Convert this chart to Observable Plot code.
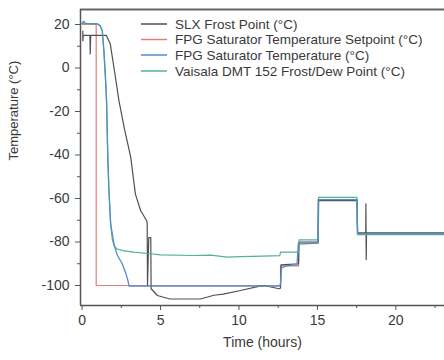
<!DOCTYPE html>
<html>
<head>
<meta charset="utf-8">
<script src="https://cdn.jsdelivr.net/npm/d3@7"></script>
<script src="https://cdn.jsdelivr.net/npm/@observablehq/plot@0.6"></script>
<style>
  html, body { margin: 0; padding: 0; background: #fff; }
  #chart { width: 444px; height: 360px; overflow: hidden; }
</style>
</head>
<body>
<div id="chart"></div>
<script>
// ---- data ----
const seriesNames = [
  "SLX Frost Point (°C)",
  "FPG Saturator Temperature Setpoint (°C)",
  "FPG Saturator Temperature (°C)",
  "Vaisala DMT 152 Frost/Dew Point (°C)"
];
const seriesColors = ["#505050", "#dc8078", "#528ccc", "#52b48a"];

const slxTime = [0.05, 0.05, 0.08, 0.5, 0.52, 0.55, 1.55, 1.8, 2.1, 2.35, 2.7, 3.1, 3.4, 3.73, 4.1, 4.15, 4.17, 4.25, 4.38, 4.4, 4.8, 5.6, 7.55, 8.4, 9.0, 10.1, 11.4, 11.6, 12.55, 12.65, 12.68, 13.8, 13.83, 15.05, 15.08, 17.52, 17.56, 18.08, 18.09, 18.11, 18.13, 23.1];
const slxValue = [17, 12.5, 15, 15, 6.5, 15, 15, 11, -3, -15, -28, -41, -58, -65.5, -70, -71, -100, -78, -78, -101.5, -104.6, -106.2, -106.2, -104.5, -104, -102.3, -100.2, -100, -101.5, -101.2, -90.5, -90, -80, -80, -61, -61, -75.8, -75.8, -62.5, -88, -75.8, -75.8];

const setTime = [0, 0.9, 0.9, 12.65, 12.65, 13.8, 13.8, 15.05, 15.05, 17.55, 17.55, 23.1];
const setValue = [20, 20, -100, -100, -91, -91, -80.5, -80.5, -60.5, -60.5, -76.3, -76.3];

const fpgTime = [0, 0.1, 0.2, 0.97, 1.15, 1.29, 1.39, 1.48, 1.56, 1.64, 1.71, 1.82, 2.03, 2.24, 2.56, 2.77, 2.92, 3.0, 12.6, 12.65, 12.7, 13.0, 13.7, 13.78, 15.03, 15.06, 17.52, 17.56, 23.1];
const fpgValue = [20.5, 21.5, 20.5, 20.3, 19.5, 17, 8, -3, -15, -41, -56, -71.5, -80.8, -86, -90, -94, -97.7, -100.3, -100.3, -99, -92, -91, -90.5, -81, -80.5, -60.5, -60.5, -76.3, -76.3];

const vaiTime = [0, 0.97, 1.15, 1.29, 1.39, 1.48, 1.56, 1.64, 1.71, 1.82, 1.92, 2.05, 2.24, 2.6, 3.3, 4.36, 5.0, 7.0, 8.2, 9.25, 10.1, 11.5, 12.6, 12.65, 13.8, 13.83, 15.04, 15.07, 17.52, 17.56, 23.1];
const vaiValue = [20.5, 20.3, 19.5, 17, 8, -3, -15, -41, -56, -71.5, -78.5, -82, -83.2, -84, -84.7, -85.4, -85.9, -86.2, -86, -87, -86.7, -86.5, -86.3, -84.7, -84.7, -79, -79, -59.5, -59.5, -76.6, -76.6];

const xTicks = [0, 5, 10, 15, 20];
const xMinorTicks = [2.5, 7.5, 12.5, 17.5, 22.5];
const yTicks = [-100, -80, -60, -40, -20, 0, 20];
const yMinorTicks = [-90, -70, -50, -30, -10, 10];
const xDomain = [-0.1, 23.1];
const yDomain = [-109.2, 26.9];

const toRows = (t, v, s) => t.map((d, i) => ({time: d, value: v[i], series: s}));
const slx = toRows(slxTime, slxValue, seriesNames[0]);
const setp = toRows(setTime, setValue, seriesNames[1]);
const fpg = toRows(fpgTime, fpgValue, seriesNames[2]);
const vai = toRows(vaiTime, vaiValue, seriesNames[3]);

const font = "'Liberation Sans', Arial, sans-serif";
const axisColor = "#555";
const textColor = "#3a3a3a";

const plot = Plot.plot({
  width: 444,
  height: 360,
  marginLeft: 80,
  marginRight: 0,
  marginTop: 9,
  marginBottom: 55,
  style: {fontFamily: font, fontSize: "14px", color: textColor, background: "#fff"},
  x: {domain: xDomain},
  y: {domain: yDomain},
  marks: [
    Plot.line(setp, {x: "time", y: "value", stroke: seriesColors[1], strokeWidth: 1.2}),
    Plot.line(slx, {x: "time", y: "value", stroke: seriesColors[0], strokeWidth: 1.2}),
    Plot.line(vai, {x: "time", y: "value", stroke: seriesColors[3], strokeWidth: 1.2}),
    Plot.line(fpg, {x: "time", y: "value", stroke: seriesColors[2], strokeWidth: 1.3}),
    Plot.ruleY([yDomain[1]], {stroke: "#666", strokeWidth: 2}),
    Plot.ruleY([yDomain[0]], {stroke: axisColor, strokeWidth: 1.5}),
    Plot.ruleX([xDomain[0]], {stroke: axisColor, strokeWidth: 1.5}),
    Plot.axisY({ticks: yTicks, tickSize: 5, tickPadding: 6, tickFormat: d => `${d}`, label: null, stroke: axisColor, fill: textColor, fontSize: 14}),
    Plot.axisY({ticks: yMinorTicks, tickSize: 3, text: null, label: null, stroke: axisColor}),
    Plot.axisX({ticks: xTicks, tickSize: 5, tickPadding: 5, tickFormat: d => `${d}`, label: null, stroke: axisColor, fill: textColor, fontSize: 14}),
    Plot.axisX({ticks: xMinorTicks, tickSize: 3, text: null, label: null, stroke: axisColor}),
    Plot.text(["Temperature (°C)"], {frameAnchor: "left", dx: -67, dy: 3, rotate: -90, text: d => d, fontSize: 13, fill: textColor}),
    Plot.text(["Time (hours)"], {frameAnchor: "bottom", dy: 41, text: d => d, fontSize: 14, fill: textColor})
  ]
});

document.getElementById("chart").appendChild(plot);

// legend inside the plot area
const svg = d3.select(plot);
const legend = svg.append("g")
  .attr("font-family", font)
  .attr("font-size", 13.5)
  .attr("text-anchor", "start")
  .attr("fill", textColor);
const legendRowY = [24, 39.5, 55, 71];
seriesNames.forEach((name, i) => {
  const g = legend.append("g").attr("transform", `translate(141,${legendRowY[i]})`);
  g.append("line").attr("x1", 0).attr("x2", 26).attr("y1", 0).attr("y2", 0)
    .attr("stroke", seriesColors[i]).attr("stroke-width", 1.5);
  g.append("text").attr("x", 34).attr("y", 0).attr("dy", "0.35em")
    .attr("text-anchor", "start").text(name);
});
</script>
</body>
</html>
